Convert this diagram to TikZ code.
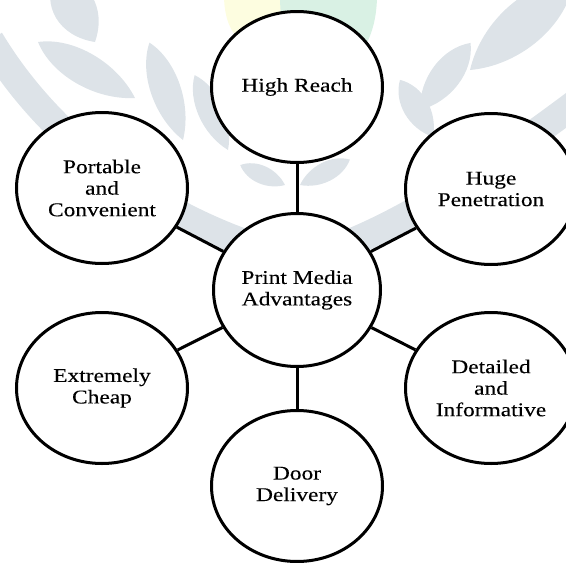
\documentclass[tikz,border=0pt]{standalone}
\usepackage{fontspec}
\setmainfont{Liberation Serif}[FakeStretch=1.2,FakeBold=0.2]
\usetikzlibrary{shapes.geometric}

\definecolor{wmgray}{HTML}{DDE3E8}
\definecolor{wmyellow}{HTML}{FDFDE0}
\definecolor{wmgreen}{HTML}{D9F1E4}

\tikzset{
  bubble/.style={ellipse,draw,fill=white,line width=3pt,inner sep=0pt,
    minimum width=171pt,minimum height=151pt,align=center,
    font=\fontsize{19.5}{21.5}\selectfont},
  hub/.style={bubble,minimum width=167pt,minimum height=153pt},
  spoke/.style={line width=3pt},
  wm/.style={fill=wmgray},
  stem/.style={draw=wmgray,line width=28pt}
}

% leaf: base x, base y, angle, length, half width
\newcommand{\leaf}[5]{\fill[wm,shift={(#1,#2)},rotate=#3] (0,0) .. controls (0.3*#4,#5) and (0.75*#4,#5) .. (#4,0) .. controls (0.75*#4,-#5) and (0.3*#4,-#5) .. (0,0);}

\begin{document}
\begin{tikzpicture}[x=1pt,y=-1pt]
\useasboundingbox (0,0) rectangle (566,563);
\clip (0,0) rectangle (566,563);

% background wreath
\fill[wmyellow] (224,-5) .. controls (224,30) and (240,48) .. (262,48) .. controls (275,48) and (282,40) .. (282,30) -- (282,-5) -- cycle;
\fill[wmgreen] (280,-5) .. controls (280,50) and (300,70) .. (328,70) .. controls (356,70) and (377,40) .. (377,-5) -- cycle;
\draw[stem] (-10,40) .. controls (50,140) and (150,210) .. (250,245);
\draw[stem] (580,100) .. controls (500,160) and (420,215) .. (345,245);
\leaf{95}{42}{121}{78}{28}
\leaf{135}{98}{150}{112}{22}
\leaf{183}{140}{109}{103}{20}
\leaf{228}{150}{114}{82}{17}
\leaf{285}{185}{156}{49}{12}
\leaf{470}{70}{41}{138}{30}
\leaf{420}{110}{53}{84}{20}
\leaf{433}{137}{120}{66}{17}
\leaf{300}{185}{27}{56}{13}

\node[hub] (media) at (297,290) {Print Media\\Advantages};
\node[bubble] (reach) at (297,87) {High Reach};
\node[bubble] (penetration) at (491,189) {Huge\\Penetration};
\node[bubble] (detailed) at (491,388) {Detailed\\and\\Informative};
\node[bubble] (door) at (297,486) {Door\\Delivery};
\node[bubble] (cheap) at (102,388) {Extremely\\Cheap};
\node[bubble] (portable) at (102,188) {Portable\\and\\Convenient};

\draw[spoke] (media) -- (reach);
\draw[spoke] (media) -- (penetration);
\draw[spoke] (media) -- (detailed);
\draw[spoke] (media) -- (door);
\draw[spoke] (media) -- (cheap);
\draw[spoke] (media) -- (portable);
\end{tikzpicture}
\end{document}
